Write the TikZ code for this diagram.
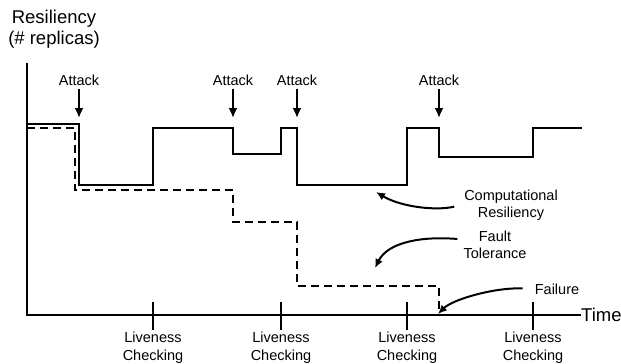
\documentclass[tikz,border=0pt]{standalone}
\usepackage{fontspec}
\setmainfont{Liberation Sans}
\usetikzlibrary{arrows.meta, positioning}

\begin{document}
\begin{tikzpicture}[x=1pt, y=-1pt,
      node distance=4pt and 4pt,
      lbl/.style={font=\fontsize{14.5}{17.5}\selectfont, align=center, inner sep=3pt},
      axlbl/.style={font=\fontsize{18.5}{20.5}\selectfont, align=center, inner sep=0pt},
      axis/.style={line width=2.2pt},
      comres/.style={line width=2.2pt},
      fltol/.style={line width=2.2pt, dash pattern=on 8pt off 5pt},
      atk/.style={-{Latex[length=10pt,width=9pt]}, line width=2.2pt},
      hint/.style={-{Latex[length=9pt,width=8pt]}, line width=2pt},
      >={Latex[]}]
    \useasboundingbox (0,0) rectangle (621,364);
    \node[axlbl] (ylbl) at (54,29) {Resiliency\\(\# replicas)};
    \node[axlbl, anchor=west] (time) at (581,315) {Time};
    \coordinate (ytop) at (27,63);
    \coordinate (orig) at (27,315);
    \draw[axis] (ytop) -- (orig) -- (time.west);
    \foreach \x [count=\i] in {153,281,407,533} {
      \coordinate (tick\i) at (\x,315);
      \draw[axis] ([yshift=13pt]tick\i) -- ([yshift=-15pt]tick\i);
      \node[lbl, below=14pt of tick\i] (live\i) {Liveness\\Checking};
    }
    \draw[comres] (27,124) -| (79,185) -| (153,128) -| (233,154) -| (281,128)
      -| (297,185) -| (407,128) -| (439,157) -| (533,128) -- (582,128);
    \draw[fltol] (27,128) -| (75,190) -| (233,222) -| (297,286) -| (439,315);
    \foreach \x [count=\i] in {79,233,297,439} {
      \node[lbl] (atk\i) at (\x,80) {Attack};
      \coordinate (hit\i) at (\x,118);
      \draw[atk] (atk\i) -- (hit\i);
    }
    \node[lbl] (comp) at (511,205) {Computational\\Resiliency};
    \node[lbl] (fault) at (495,245) {Fault\\Tolerance};
    \node[lbl] (fail) at (557,289) {Failure};
    \coordinate (compend) at (376,192);
    \coordinate (faultend) at (375,268);
    \coordinate (failend) at (438,314);
    \draw[hint, shorten <=7pt] (comp.west) .. controls +(-25,6) and +(25,15) .. (compend);
    \draw[hint] ([shift={(-3,-6)}]fault.west) .. controls +(-35,-3) and +(13,-26) .. (faultend);
    \draw[hint, shorten <=9pt] (fail.west) .. controls +(-35,-2) and +(15,-15) .. (failend);
  \end{tikzpicture}
\end{document}
